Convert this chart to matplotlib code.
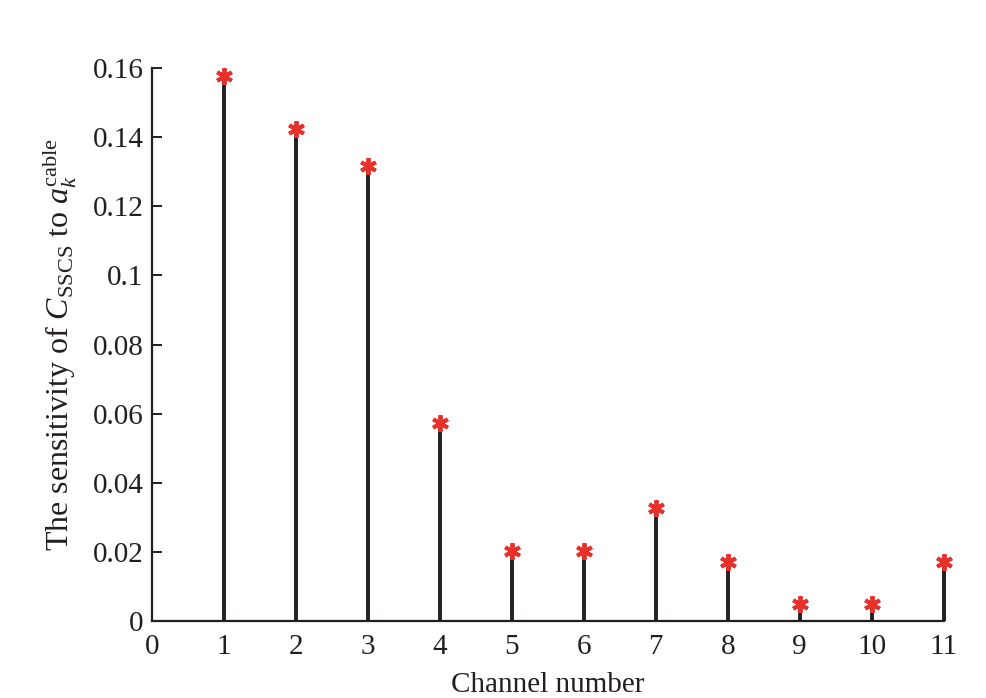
import matplotlib
matplotlib.use("Agg")
import matplotlib.pyplot as plt
import numpy as np

channels = [1, 2, 3, 4, 5, 6, 7, 8, 9, 10, 11]
sensitivity = [0.1577, 0.1424, 0.1317, 0.0573, 0.0203, 0.0203, 0.0327, 0.0171, 0.0049, 0.0049, 0.0171]
xticks = list(range(0, 12))
yticks = [0, 0.02, 0.04, 0.06, 0.08, 0.1, 0.12, 0.14, 0.16]
yticklabels = ["0", "0.02", "0.04", "0.06", "0.08", "0.1", "0.12", "0.14", "0.16"]

plt.rcParams['font.family'] = 'Liberation Serif'
plt.rcParams['mathtext.fontset'] = 'custom'
plt.rcParams['mathtext.rm'] = 'Liberation Serif'
plt.rcParams['mathtext.it'] = 'Liberation Serif:italic'
plt.rcParams['mathtext.bf'] = 'Liberation Serif:bold'

fig = plt.figure(figsize=(9.87, 6.98), dpi=100)
ax = fig.add_axes([0.154, 0.110, 0.802, 0.7926])

markerline, stemlines, baseline = ax.stem(channels, sensitivity, basefmt=' ')
plt.setp(stemlines, color='#231f20', linewidth=2.8, clip_on=False)
plt.setp(markerline, marker=(6, 2, 0), color='#e8312a', markersize=12, markeredgewidth=2.8, clip_on=False, zorder=4)

ax.set_xlim(0, 11)
ax.set_ylim(0, 0.16)
ax.set_xticks(xticks)
ax.set_yticks(yticks)
ax.set_yticklabels(yticklabels)
for s in ['top', 'right']:
    ax.spines[s].set_visible(False)
for s in ['left', 'bottom']:
    ax.spines[s].set_linewidth(1.6)
    ax.spines[s].set_color('#231f20')
ax.tick_params(direction='in', length=7, width=1.4, labelsize=21, colors='#231f20', pad=6)
ax.tick_params(axis='x', length=0, pad=9)

ax.set_xlabel('Channel number', fontsize=21, color='#231f20', labelpad=9)
ax.set_ylabel(r'The sensitivity of $C_{\mathrm{SSCS}}$ to $a_k^{\mathrm{cable}}$', fontsize=23, color='#231f20', labelpad=10)

fig.savefig('out.png', dpi=100)
